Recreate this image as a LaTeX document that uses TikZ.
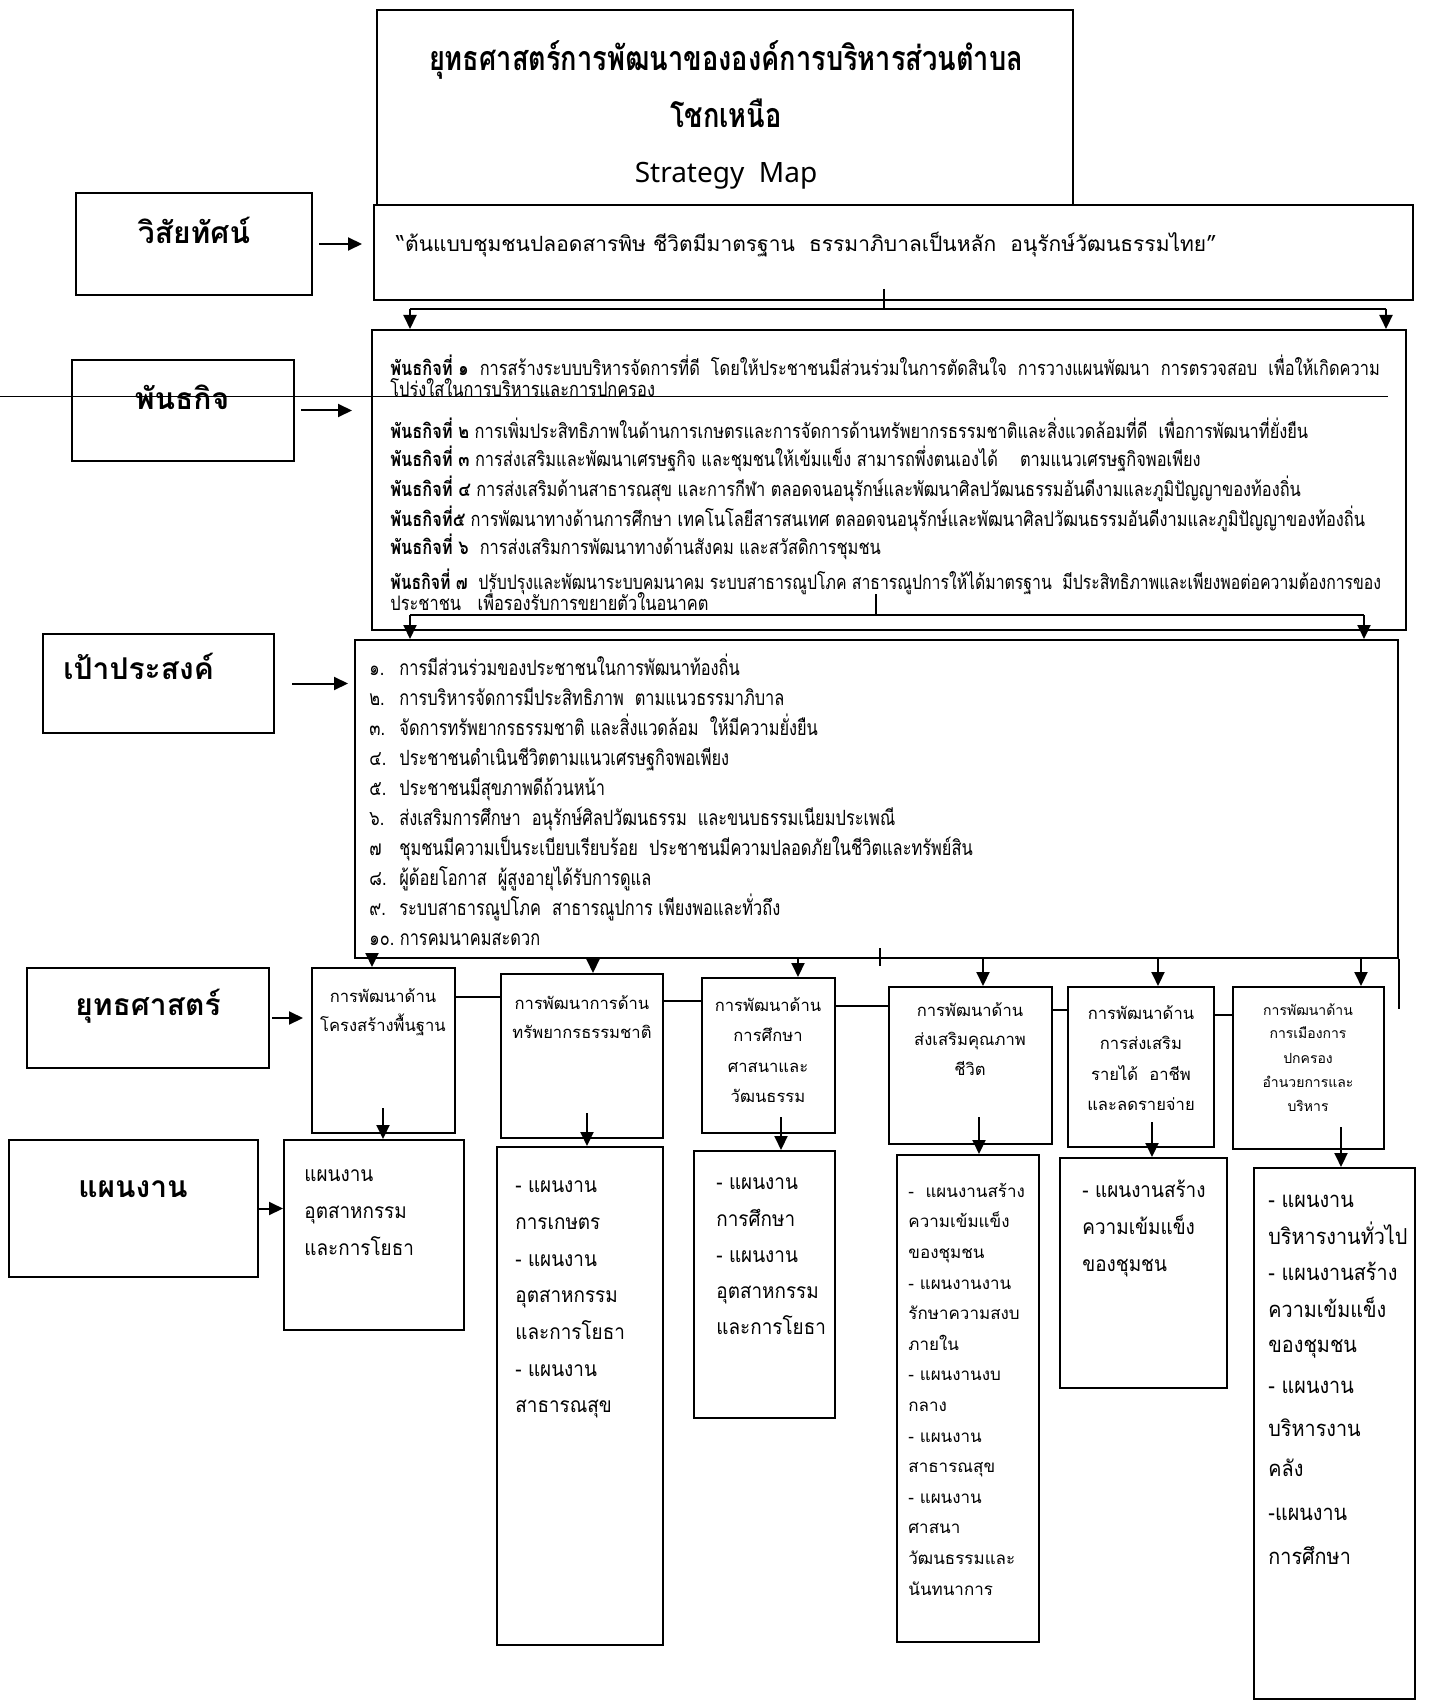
\documentclass[tikz,border=0pt]{standalone}
\usepackage{fontspec}
\usetikzlibrary{arrows.meta,fit}
\newfontfamily\thai[Script=Thai]{Loma}
\newfontfamily\thaiT[Script=Thai,FakeStretch=0.8]{Loma}
\newfontfamily\thaiN[Script=Thai,FakeStretch=0.82]{Loma}
\newfontfamily\thaiNN[Script=Thai,FakeStretch=0.79]{Loma}
\newfontfamily\thaiO[Script=Thai,FakeStretch=0.78]{Loma}
\newfontfamily\thaiP[Script=Thai,FakeStretch=0.9]{Loma}
\newfontfamily\latinf{Noto Sans}
\newcommand\fs[2]{\fontsize{#1}{#2}\selectfont}
\begin{document}
\begin{tikzpicture}[x=0.5pt,y=-0.5pt,font=\thai,
  bx/.style={draw,line width=1pt,inner sep=0pt},
  conn/.style={line width=1pt},
  arr/.style={line width=1pt,-{Triangle[length=7pt,width=6.5pt]}},
  th/.style={inner sep=0pt,text depth=0pt,text height=#1},
  lbl/.style={th=7.5pt,yshift=-1.5pt,font=\thai\bfseries\fs{15}{18}},
  msn/.style={th=2.5pt,yshift=-2.2pt,anchor=west,font=\thaiN\fs{10}{12}},
  obj/.style={th=2.6pt,yshift=-2.2pt,anchor=west,font=\thaiO\fs{10.5}{12}},
  stg/.style={th=2.2pt,yshift=-2pt,font=\thai\fs{8.3}{10}},
  stgs/.style={th=1.8pt,yshift=-2pt,font=\thai\fs{7}{8}},
  pl/.style={th=2.7pt,yshift=-1.5pt,anchor=west,font=\thaiP\fs{10.5}{12}},
  pls/.style={th=2.2pt,yshift=-1.5pt,anchor=west,font=\thai\fs{8.5}{10}},
  plb/.style={th=2.8pt,yshift=-1.5pt,anchor=west,font=\thaiP\fs{11}{13}}]
\fill[white] (0,0) rectangle (1444,1700);
\useasboundingbox (0,0) rectangle (1444,1700);

% ---------- stray scan line
\draw[line width=0.5pt] (0,397) -- (1388,397);

% ---------- title and vision
\node[bx,fit={(377,10) (1073,205)}] (title) {};
\node[th=8.5pt,font=\thaiT\bfseries\fs{17}{20}] (t1) at (726,62) {ยุทธศาสตร์การพัฒนาขององค์การบริหารส่วนตำบล};
\node[th=8.5pt,font=\thaiT\bfseries\fs{17}{20}] (t2) at (726,119) {โชกเหนือ};
\node[th=7pt,font=\latinf\fs{14}{17}] (t3) at (726,176) {Strategy~~Map};

\node[bx,fit={(374,205) (1413,300)}] (vision) {};
\node[th=2.7pt,yshift=-2pt,anchor=west,font=\thai\fs{10.5}{13}] (vt) at (396,245) {“ต้นแบบชุมชนปลอดสารพิษ ชีวิตมีมาตรฐาน~~ธรรมาภิบาลเป็นหลัก~~อนุรักษ์วัฒนธรรมไทย”};

% ---------- left labels
\node[bx,fit={(76,193) (312,295)}] (lv) {};
\node[lbl] (lvt) at (194,233) {วิสัยทัศน์};
\node[bx,fit={(72,360) (294,461)}] (lm) {};
\node[lbl] (lmt) at (182,399) {พันธกิจ};
\node[bx,fit={(43,634) (274,733)}] (lo) {};
\node[lbl,anchor=west] (lot) at (63,669) {เป้าประสงค์};
\node[bx,fit={(27,968) (269,1068)}] (ls) {};
\node[lbl] (lst) at (148,1005) {ยุทธศาสตร์};
\node[bx,fit={(9,1140) (258,1277)}] (lp) {};
\node[lbl] (lpt) at (133,1187) {แผนงาน};

% ---------- mission
\node[bx,fit={(372,330) (1406,630)}] (mission) {};
\node[msn] (m1) at (390,369) {{\bfseries พันธกิจที่ ๑}~~การสร้างระบบบริหารจัดการที่ดี~~โดยให้ประชาชนมีส่วนร่วมในการตัดสินใจ~~การวางแผนพัฒนา~~การตรวจสอบ~~เพื่อให้เกิดความ};
\node[msn] (m1b) at (390,390) {โปร่งใสในการบริหารและการปกครอง};
\node[msn] (m2) at (390,432) {{\bfseries พันธกิจที่ ๒} การเพิ่มประสิทธิภาพในด้านการเกษตรและการจัดการด้านทรัพยากรธรรมชาติและสิ่งแวดล้อมที่ดี~~เพื่อการพัฒนาที่ยั่งยืน};
\node[msn] (m3) at (390,460) {{\bfseries พันธกิจที่ ๓} การส่งเสริมและพัฒนาเศรษฐกิจ และชุมชนให้เข้มแข็ง สามารถพึ่งตนเองได้~~~~ตามแนวเศรษฐกิจพอเพียง};
\node[msn] (m4) at (390,490) {{\bfseries พันธกิจที่ ๔} การส่งเสริมด้านสาธารณสุข และการกีฬา ตลอดจนอนุรักษ์และพัฒนาศิลปวัฒนธรรมอันดีงามและภูมิปัญญาของท้องถิ่น};
\node[msn] (m5) at (390,520) {{\bfseries พันธกิจที่๕} การพัฒนาทางด้านการศึกษา เทคโนโลยีสารสนเทศ ตลอดจนอนุรักษ์และพัฒนาศิลปวัฒนธรรมอันดีงามและภูมิปัญญาของท้องถิ่น};
\node[msn] (m6) at (390,548) {{\bfseries พันธกิจที่ ๖}~~การส่งเสริมการพัฒนาทางด้านสังคม และสวัสดิการชุมชน};
\node[msn,font=\thaiNN\fs{10}{12}] (m7) at (390,583) {{\bfseries พันธกิจที่ ๗}~~ปรับปรุงและพัฒนาระบบคมนาคม ระบบสาธารณูปโภค สาธารณูปการให้ได้มาตรฐาน~~มีประสิทธิภาพและเพียงพอต่อความต้องการของ};
\node[msn] (m7b) at (390,604) {ประชาชน~~~เพื่อรองรับการขยายตัวในอนาคต};

% ---------- objectives
\node[bx,fit={(355,640) (1398,958)}] (objb) {};
\draw[conn] (objb.south east) -- ++(0,50);
\foreach \t [count=\i from 0] in {%
 {\makebox[15pt][l]{๑.}การมีส่วนร่วมของประชาชนในการพัฒนาท้องถิ่น},
 {\makebox[15pt][l]{๒.}การบริหารจัดการมีประสิทธิภาพ~~ตามแนวธรรมาภิบาล},
 {\makebox[15pt][l]{๓.}จัดการทรัพยากรธรรมชาติ และสิ่งแวดล้อม~~ให้มีความยั่งยืน},
 {\makebox[15pt][l]{๔.}ประชาชนดำเนินชีวิตตามแนวเศรษฐกิจพอเพียง},
 {\makebox[15pt][l]{๕.}ประชาชนมีสุขภาพดีถ้วนหน้า},
 {\makebox[15pt][l]{๖.}ส่งเสริมการศึกษา~~อนุรักษ์ศิลปวัฒนธรรม~~และขนบธรรมเนียมประเพณี},
 {\makebox[15pt][l]{๗}ชุมชนมีความเป็นระเบียบเรียบร้อย~~ประชาชนมีความปลอดภัยในชีวิตและทรัพย์สิน},
 {\makebox[15pt][l]{๘.}ผู้ด้อยโอกาส~~ผู้สูงอายุได้รับการดูแล},
 {\makebox[15pt][l]{๙.}ระบบสาธารณูปโภค~~สาธารณูปการ เพียงพอและทั่วถึง},
 {๑๐.~การคมนาคมสะดวก}}
 \node[obj] (o\i) at (369,{668+30*\i}) {\t};

% ---------- connectors vision -> mission
\coordinate (vj) at (884,309);
\coordinate (vl) at (410,309);
\coordinate (vr) at (1386,309);
\draw[conn] ([yshift=6pt]vision.south -| vj) -- (vj);
\draw[conn] (vl) -- (vr);
\draw[arr] (vl) -- (vl |- mission.north);
\draw[arr] (vr) -- (vr |- mission.north);

% ---------- connectors mission -> objectives
\coordinate (mj) at (876,615);
\coordinate (ml) at (410,615);
\coordinate (mr) at (1364,615);
\draw[conn] (876,594) -- (mj);
\draw[conn] (ml) -- (mr);
\draw[arr] (ml) -- (ml |- objb.north);
\draw[arr] (mr) -- (mr |- objb.north);

% ---------- label arrows
\draw[arr,shorten <=3pt,shorten >=5.5pt] (lv.east) -- (lv.east -| vision.west);
\draw[arr,shorten <=3pt,shorten >=9.5pt] (lm.east) -- (lm.east -| mission.west);
\draw[arr,shorten <=8.5pt,shorten >=3pt] (lo.east) -- (lo.east -| objb.west);

% ---------- strategy boxes
\node[bx,fit={(312,968) (455,1133)}] (s1) {};
\node[bx,fit={(501,974) (663,1138)}] (s2) {};
\node[bx,fit={(702,978) (835,1133)}] (s3) {};
\node[bx,fit={(889,987) (1052,1144)}] (s4) {};
\node[bx,fit={(1068,987) (1214,1147)}] (s5) {};
\node[bx,fit={(1233,987) (1384,1149)}] (s6) {};
\draw[arr,shorten <=1pt,shorten >=4pt] (ls.east) -- (ls.east -| s1.west);

\draw[conn] (s1.east |- 0,997) -- (s2.west |- 0,997);
\draw[conn] (s2.east |- 0,1001) -- (s3.west |- 0,1001);
\draw[conn] (s3.east |- 0,1006) -- (s4.west |- 0,1006);
\draw[conn] (s4.east |- 0,1010) -- (s5.west |- 0,1010);
\draw[conn] (s5.east |- 0,1015) -- (s6.west |- 0,1015);

\draw[conn] (880,948) -- (880,966);
\foreach \x/\s in {372/s1,593/s2,798/s3,983/s4,1158/s5,1361/s6}
  \draw[arr] (\x,958) -- (\x,958 |- \s.north);

\node[stg] (s1a) at (383,996) {การพัฒนาด้าน};
\node[stg] (s1b) at (383,1025) {โครงสร้างพื้นฐาน};
\node[stg] (s2a) at (582,1003) {การพัฒนาการด้าน};
\node[stg] (s2b) at (582,1032) {ทรัพยากรธรรมชาติ};
\node[stg] (s3a) at (768,1005) {การพัฒนาด้าน};
\node[stg] (s3b) at (768,1035) {การศึกษา};
\node[stg] (s3c) at (768,1066) {ศาสนาและ};
\node[stg] (s3d) at (768,1096) {วัฒนธรรม};
\node[stg] (s4a) at (970,1010) {การพัฒนาด้าน};
\node[stg] (s4b) at (970,1039) {ส่งเสริมคุณภาพ};
\node[stg] (s4c) at (970,1069) {ชีวิต};
\node[stg] (s5a) at (1141,1013) {การพัฒนาด้าน};
\node[stg] (s5b) at (1141,1043) {การส่งเสริม};
\node[stg] (s5c) at (1141,1074) {รายได้~~อาชีพ};
\node[stg] (s5d) at (1141,1104) {และลดรายจ่าย};
\node[stgs] (s6a) at (1308,1010) {การพัฒนาด้าน};
\node[stgs] (s6b) at (1308,1033) {การเมืองการ};
\node[stgs] (s6c) at (1308,1058) {ปกครอง};
\node[stgs] (s6d) at (1308,1082) {อำนวยการและ};
\node[stgs] (s6e) at (1308,1106) {บริหาร};

% ---------- plan boxes
\node[bx,fit={(284,1140) (464,1330)}] (p1) {};
\node[bx,fit={(497,1147) (663,1645)}] (p2) {};
\node[bx,fit={(694,1151) (835,1418)}] (p3) {};
\node[bx,fit={(897,1155) (1039,1642)}] (p4) {};
\node[bx,fit={(1060,1158) (1227,1388)}] (p5) {};
\node[bx,fit={(1254,1168) (1415,1699)}] (p6) {};
\draw[arr] (lp.east) -- (lp.east -| p1.west);

\foreach \x/\y/\p in {383/1108/p1,587/1113/p2,781/1117/p3,979/1117/p4,1152/1122/p5,1341/1127/p6}
  \draw[arr] (\x,\y) -- (\x,\y |- \p.north);

\foreach \t [count=\i from 0] in {แผนงาน,อุตสาหกรรม,และการโยธา}
  \node[pl] (p1t\i) at (304,{1176+37*\i}) {\t};
\foreach \t [count=\i from 0] in {- แผนงาน,การเกษตร,- แผนงาน,อุตสาหกรรม,และการโยธา,- แผนงาน,สาธารณสุข}
  \node[pl] (p2t\i) at (515,{1187+36.7*\i}) {\t};
\foreach \t [count=\i from 0] in {- แผนงาน,การศึกษา,- แผนงาน,อุตสาหกรรม,และการโยธา}
  \node[pl] (p3t\i) at (716,{1184+36.3*\i}) {\t};
\foreach \t [count=\i from 0] in {-~~แผนงานสร้าง,ความเข้มแข็ง,ของชุมชน,- แผนงานงาน,รักษาความสงบ,ภายใน,- แผนงานงบ,กลาง,- แผนงาน,สาธารณสุข,- แผนงาน,ศาสนา,วัฒนธรรมและ,นันทนาการ}
  \node[pls] (p4t\i) at (908,{1192+30.6*\i}) {\t};
\foreach \t [count=\i from 0] in {- แผนงานสร้าง,ความเข้มแข็ง,ของชุมชน}
  \node[pl] (p5t\i) at (1082,{1192+37*\i}) {\t};
\foreach \t/\y [count=\i from 0] in {- แผนงาน/1202,บริหารงานทั่วไป/1239,- แผนงานสร้าง/1275,ความเข้มแข็ง/1312,ของชุมชน/1347,- แผนงาน/1388,บริหารงาน/1431,คลัง/1471,-แผนงาน/1515,การศึกษา/1559}
  \node[plb] (p6t\i) at (1268,\y) {\t};
\end{tikzpicture}
\end{document}
